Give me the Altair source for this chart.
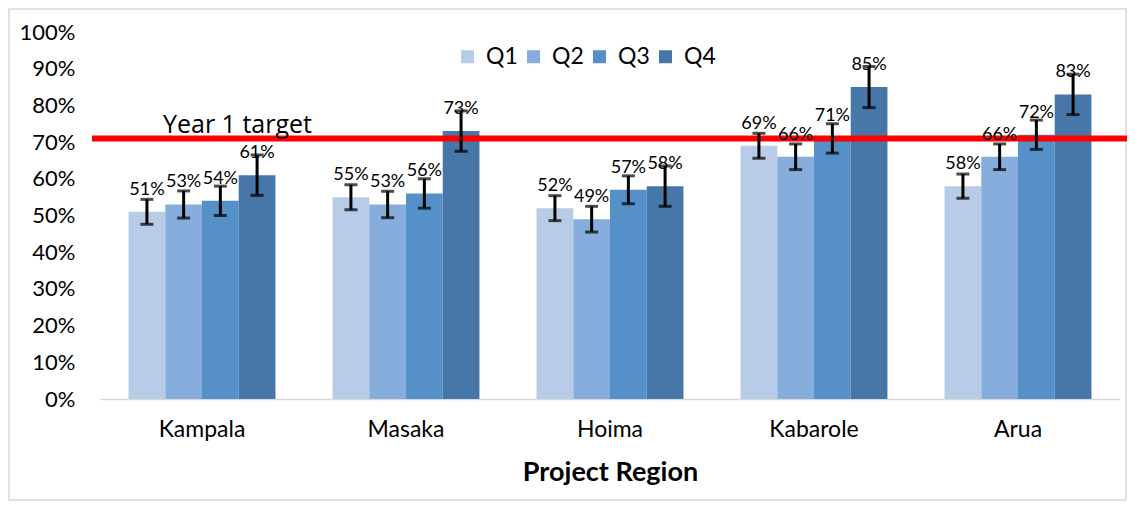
import altair as alt
import pandas as pd

regions = ["Kampala", "Masaka", "Hoima", "Kabarole", "Arua"]
quarters = ["Q1", "Q2", "Q3", "Q4"]
q1 = [51, 55, 52, 69, 58]
q2 = [53, 53, 49, 66, 66]
q3 = [54, 56, 57, 71, 72]
q4 = [61, 73, 58, 85, 83]
e1 = [3.4, 3.4, 3.4, 3.4, 3.3]
e2 = [3.7, 3.6, 3.5, 3.5, 3.5]
e3 = [4.0, 4.0, 3.8, 4.0, 4.0]
e4 = [5.5, 5.5, 5.5, 5.6, 5.5]
colors = ["#B8CCE8", "#86ADDB", "#5591C8", "#4677A8"]
target = 0.71
target_label = "Year 1 target"

rows = []
for qi, (vals, errs) in enumerate([(q1, e1), (q2, e2), (q3, e3), (q4, e4)]):
    for ri, r in enumerate(regions):
        v = vals[ri] / 100
        e = errs[ri] / 100
        rows.append({"region": r, "quarter": quarters[qi], "value": v,
                     "lo": v - e, "hi": v + e, "label": f"{vals[ri]}%"})
df = pd.DataFrame(rows)

W, H = 1020, 367
FONT = "Lato"

x = alt.X("region:N", sort=regions, title="Project Region",
          scale=alt.Scale(paddingInner=0.28, paddingOuter=0.14))
xo = alt.XOffset("quarter:N", sort=quarters)

base = alt.Chart(df)

bars = base.mark_bar().encode(
    x=x, xOffset=xo,
    y=alt.Y("value:Q", scale=alt.Scale(domain=[0, 1]),
            axis=alt.Axis(format=".0%", tickCount=11, values=[i / 10 for i in range(11)]),
            title=None),
    color=alt.Color("quarter:N", sort=quarters,
                    scale=alt.Scale(domain=quarters, range=colors),
                    legend=alt.Legend(title=None, orient="none", direction="horizontal",
                                      legendX=356, legendY=13, symbolType="square",
                                      symbolSize=169, symbolStrokeWidth=0,
                                      labelFontSize=23, labelFont=FONT, labelColor="black",
                                      labelOffset=7, columnPadding=4)),
)

err = base.mark_rule(color="black", strokeWidth=3).encode(
    x=x, xOffset=xo, y="lo:Q", y2="hi:Q")
cap_lo = base.mark_tick(color="black", thickness=3, size=13, orient="horizontal").encode(
    x=x, xOffset=xo, y="lo:Q")
cap_hi = base.mark_tick(color="black", thickness=3, size=13, orient="horizontal").encode(
    x=x, xOffset=xo, y="hi:Q")

labels = base.mark_text(font=FONT, fontSize=18, baseline="alphabetic", dy=-17,
                        color="black").encode(
    x=x, xOffset=xo, y="value:Q", text="label:N")

tdf = pd.DataFrame({"t": [target], "lab": [target_label]})
trule = alt.Chart(tdf).mark_rule(color="#FF0000", strokeWidth=6).encode(
    y="t:Q", x=alt.value(-8), x2=alt.value(W + 7))
ttext = alt.Chart(tdf).mark_text(font="Open Sans", fontSize=25, align="left",
                                 baseline="alphabetic", dy=-5, color="black").encode(
    y="t:Q", x=alt.value(63), text="lab:N")

frame = alt.Chart(tdf).mark_rect(fillOpacity=0, stroke="#D9D9D9", strokeWidth=1.5).encode(
    x=alt.value(-91), x2=alt.value(W + 6), y=alt.value(-23), y2=alt.value(H + 101))

chart = alt.layer(frame, bars, trule, ttext, err, cap_lo, cap_hi, labels).properties(
    width=W, height=H,
    padding={"left": 92, "top": 24, "right": 7, "bottom": 102},
    autosize=alt.AutoSizeParams(type="none"),
).configure_view(stroke=None).configure_axisX(
    domainColor="#D9D9D9", domainWidth=1.5, ticks=False, labelAngle=0,
    labelFont=FONT, labelFontSize=23, labelColor="black", labelPadding=19,
    titleFont=FONT, titleFontSize=27, titleFontWeight="bold", titleColor="black",
    titlePadding=18, grid=False,
).configure_axisY(
    domain=False, ticks=False, grid=False, labelFont=FONT, labelFontSize=22,
    labelColor="black", labelPadding=25,
)

chart.save("out.html", embed_options={"renderer": "svg", "actions": False})
